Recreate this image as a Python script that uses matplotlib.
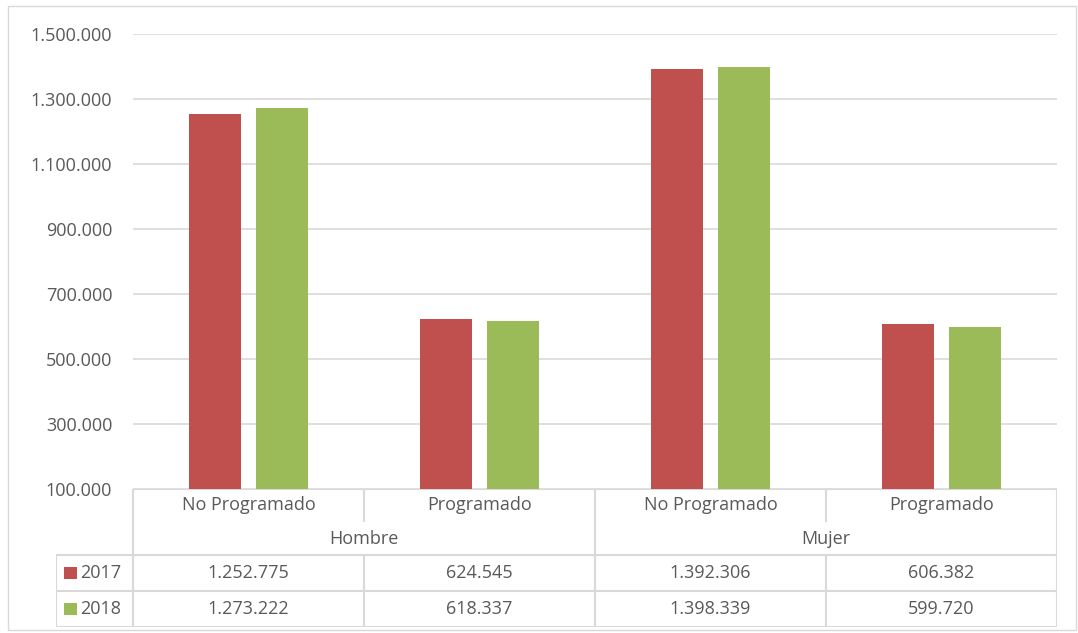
import numpy as np
import matplotlib.pyplot as plt
from matplotlib.patches import Rectangle

plt.rcParams['font.family'] = ['Open Sans', 'DejaVu Sans']

categories = ["No Programado", "Programado", "No Programado", "Programado"]
groups = ["Hombre", "Mujer"]
years = ["2017", "2018"]
v2017 = [1252775, 624545, 1392306, 606382]
v2018 = [1273222, 618337, 1398339, 599720]
yticks = [100000, 300000, 500000, 700000, 900000, 1100000, 1300000, 1500000]

colors = ["#C0504D", "#9BBB59"]
grid_c = "#D9D9D9"
txt_c = "#595959"

W, H = 1078, 633
fig = plt.figure(figsize=(W / 100, H / 100), dpi=100)

def px_axes(x0, y0, x1, y1):
    return fig.add_axes([x0 / W, 1 - y1 / H, (x1 - x0) / W, (y1 - y0) / H])

# outer chart border
fig.patches.append(Rectangle((8 / W, 3 / H), (1076 - 8) / W, (627 - 3) / H,
                             transform=fig.transFigure, fill=False,
                             edgecolor="#D9D9D9", lw=1))

# plot area
ax = px_axes(133, 34, 1057, 489)
x = np.arange(len(categories))
off, bw = 0.143, 0.225
ax.bar(x - off, v2017, bw, color=colors[0], zorder=3)
ax.bar(x + off, v2018, bw, color=colors[1], zorder=3)
ax.set_xlim(-0.5, 3.5)
ax.set_ylim(100000, 1500000)
ax.set_yticks(yticks)
ax.set_yticklabels([f"{v:,}".replace(",", ".") for v in yticks], color=txt_c, fontsize=13)
ax.tick_params(axis="y", length=0, pad=15)
ax.set_xticks([])
ax.grid(axis="y", color=grid_c, lw=1.2, zorder=0)
for s in ax.spines.values():
    s.set_visible(False)

# data table below the plot
tb = px_axes(56, 489, 1057, 627)
tb.set_xlim(-0.5 - 77 / 231, 3.5)
tb.set_ylim(138, 0)
tb.axis("off")
rows = [0, 33, 66, 102, 138]
lk = dict(color=grid_c, lw=1.5, solid_capstyle="butt")
tb.plot([-0.5, 3.5], [0, 0], **lk)
tb.plot([-0.5 - 77 / 231, 3.5], [rows[2]] * 2, **lk)
tb.plot([-0.5 - 77 / 231, 3.5], [rows[3]] * 2, **lk)
tb.plot([-0.5 - 77 / 231, 3.5], [rows[4]] * 2, **lk)
for b in [-0.5, 1.5, 3.5]:
    tb.plot([b, b], [0, rows[4]], **lk)
for b in [0.5, 2.5]:
    tb.plot([b, b], [0, rows[1]], **lk)
    tb.plot([b, b], [rows[2], rows[4]], **lk)
tb.plot([-0.5 - 77 / 231] * 2, [rows[2], rows[4]], **lk)

fs = 13
for i, c in enumerate(categories):
    tb.text(i, (rows[0] + rows[1]) / 2, c, ha="center", va="center", color=txt_c, fontsize=fs)
for g, name in enumerate(groups):
    tb.text(2 * g + 0.5, (rows[1] + rows[2]) / 2, name, ha="center", va="center", color=txt_c, fontsize=fs)
for r, (yr, vals) in enumerate(zip(years, [v2017, v2018])):
    yc = (rows[2 + r] + rows[3 + r]) / 2
    for i, v in enumerate(vals):
        tb.text(i, yc, f"{v:,}".replace(",", "."), ha="center", va="center", color=txt_c, fontsize=fs)
    tb.add_patch(Rectangle((-0.5 - 69 / 231, yc - 6), 13 / 231, 12, color=colors[r], lw=0))
    tb.text(-0.5 - 53 / 231, yc, yr, ha="left", va="center", color=txt_c, fontsize=fs)

fig.savefig("out.png", dpi=100)
